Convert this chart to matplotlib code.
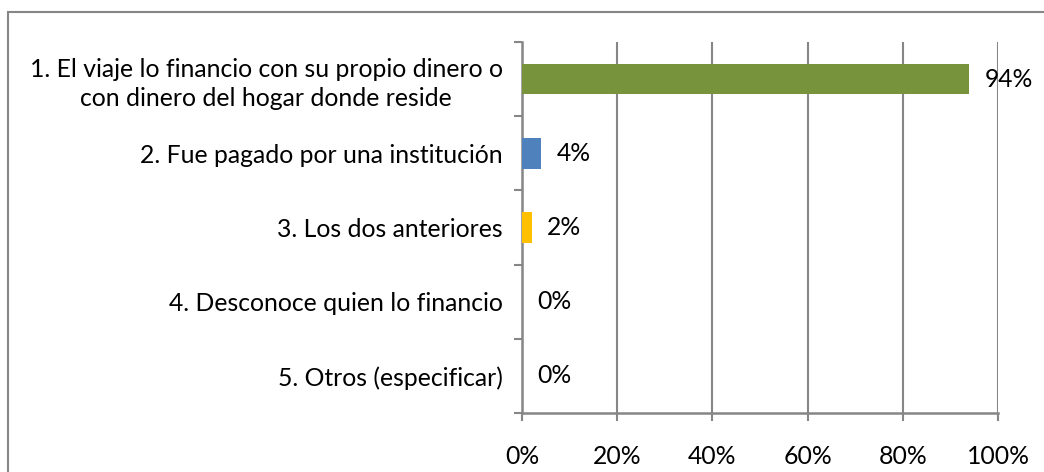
import numpy as np
import matplotlib.pyplot as plt
from matplotlib.patches import Rectangle

categorias = [
    "1. El viaje lo financio con su propio dinero o\ncon dinero del hogar donde reside",
    "2. Fue pagado por una institución",
    "3. Los dos anteriores",
    "4. Desconoce quien lo financio",
    "5. Otros (especificar)",
]
porcentajes = [94, 4, 2, 0, 0]
colores = ["#77933C", "#4F81BD", "#FFC000", "#A5A5A5", "#4BACC6"]
ticks_x = [0, 20, 40, 60, 80, 100]

gris = "#868686"
fs = 17.8
plt.rcParams['font.family'] = ['Lato', 'DejaVu Sans']

W, H = 1044, 472
fig = plt.figure(figsize=(W / 100, H / 100), dpi=100)
ax = fig.add_axes([522 / W, 1 - 413 / H, (998 - 522) / W, (413 - 42) / H])

# marco exterior del gráfico
fig.patches.append(Rectangle((8 / W, -0.1), 1.2, 1 - 12 / H + 0.1,
                             transform=fig.transFigure, fill=False,
                             edgecolor=gris, linewidth=1.5))

y = np.arange(len(categorias))
valores = np.array(porcentajes) / 100
ax.barh(y, valores, height=0.41, color=colores, zorder=3)

for yi, v, p in zip(y, valores, porcentajes):
    ax.annotate(f"{p}%", (v, yi), xytext=(11, 0), textcoords="offset points",
                va="center", ha="left", fontsize=fs, color="black", zorder=4)

ax.set_xlim(0, 1)
ax.set_ylim(len(categorias) - 0.5, -0.5)
ax.set_xticks([t / 100 for t in ticks_x])
ax.set_xticklabels([f"{t}%" for t in ticks_x], fontsize=fs)
ax.set_yticks(y)
ax.set_yticklabels(categorias, fontsize=fs)
for lbl in ax.get_yticklabels():
    lbl.set_multialignment("center")
    lbl.set_linespacing(1.3)
ax.set_yticks(np.arange(-0.5, len(categorias)), minor=True)

ax.tick_params(axis="y", which="major", length=0, pad=14)
ax.tick_params(axis="y", which="minor", length=6, width=1.5, color=gris)
ax.tick_params(axis="x", length=6, width=1.5, color=gris, pad=17)

ax.grid(axis="x", color=gris, linewidth=1.5, zorder=0)
for lado in ["top", "right"]:
    ax.spines[lado].set_visible(False)
for lado in ["left", "bottom"]:
    ax.spines[lado].set_color(gris)
    ax.spines[lado].set_linewidth(1.8)

fig.savefig("out.png", dpi=100)
